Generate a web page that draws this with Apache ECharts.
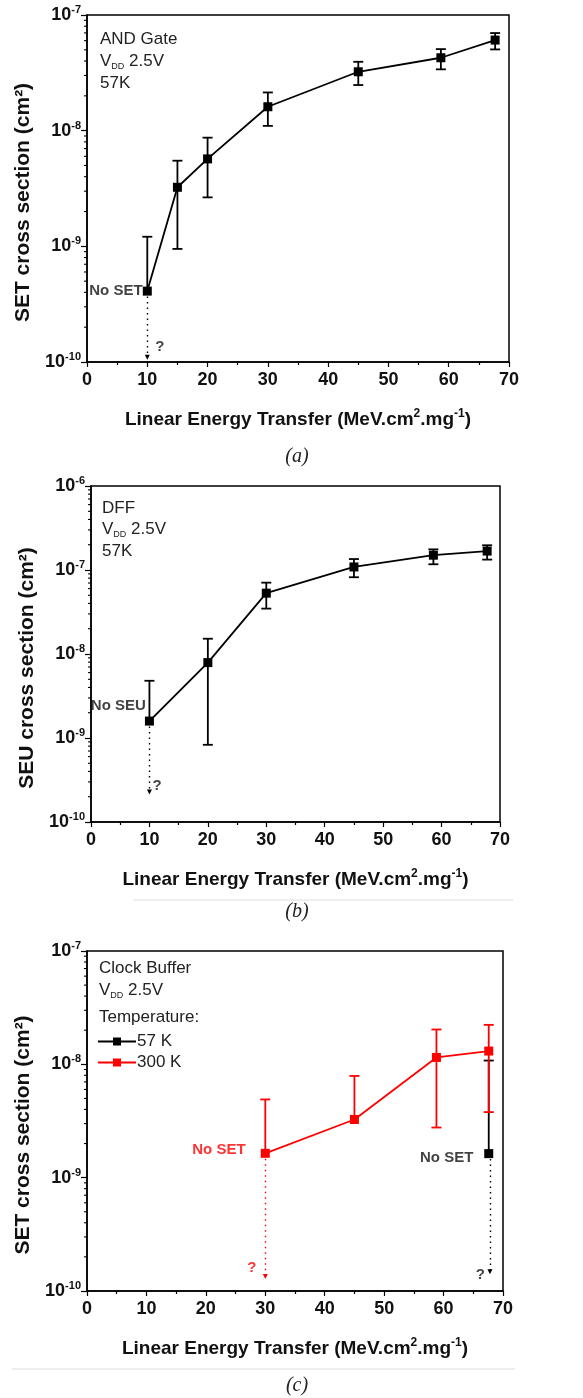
<!DOCTYPE html>
<html><head><meta charset="utf-8">
<script src="https://cdn.jsdelivr.net/npm/echarts@6/dist/echarts.min.js"></script>
<style>html,body{margin:0;padding:0;background:#fff}#c{width:583px;height:1398px}</style>
</head><body><div id="c"></div><script>
// ---------- DATA ----------
// (a) AND Gate, VDD 2.5V, 57K
const letA = [10, 15, 20, 30, 45, 58.7, 67.7];
const setA = [4.1e-10, 3.24e-9, 5.7e-9, 1.61e-8, 3.23e-8, 4.27e-8, 6.07e-8];
const setAHigh = [1.21e-9, 5.5e-9, 8.7e-9, 2.14e-8, 3.94e-8, 5.07e-8, 6.98e-8];
const setALow = [null, 9.5e-10, 2.65e-9, 1.1e-8, 2.48e-8, 3.39e-8, 5.04e-8];
const arrowA = [10, 4.1e-10, 1.1e-10];
const qA = [12.1, 1.35e-10];
// (b) DFF, VDD 2.5V, 57K
const letB = [10, 20, 30, 45, 58.6, 67.8];
const seuB = [1.59e-9, 7.9e-9, 5.3e-8, 1.087e-7, 1.5e-7, 1.68e-7];
const seuBHigh = [4.8e-9, 1.52e-8, 7.07e-8, 1.35e-7, 1.76e-7, 1.97e-7];
const seuBLow = [null, 8.3e-10, 3.47e-8, 8.2e-8, 1.17e-7, 1.33e-7];
const arrowB = [10, 1.59e-9, 2.28e-10];
const qB = [11.3, 2.73e-10];
// (c) Clock Buffer, VDD 2.5V
const letC300 = [30, 45, 58.8, 67.6];
const setC300 = [1.64e-9, 3.26e-9, 1.15e-8, 1.31e-8];
const setC300High = [4.9e-9, 7.9e-9, 2.03e-8, 2.23e-8];
const setC300Low = [null, null, 2.77e-9, 3.79e-9];
const letC57 = [67.6];
const setC57 = [1.63e-9];
const setC57High = [1.08e-8];
const setC57Low = [null];
const arrowC300 = [30, 1.64e-9, 1.34e-10];
const arrowC57 = [67.8, 1.63e-9, 1.48e-10];
const qC300 = [27.75, 1.6e-10];
const qC57 = [66.2, 1.38e-10];
const xTicks = [0, 70, 10];
const yRanges = [[1e-10, 1e-7], [1e-10, 1e-6], [1e-10, 1e-7]];
const yNames = ['SET cross section (cm²)', 'SEU cross section (cm²)', 'SET cross section (cm²)'];
const seriesNames = ['57 K', '300 K'];

// ---------- CHART ----------
const FONT = '"Liberation Sans", Arial, sans-serif';
const TXT = '#111';
const RED = '#ff0000';
const grids = [
  {left: 87, top: 15, width: 422, height: 347},
  {left: 91, top: 486, width: 409, height: 336},
  {left: 87, top: 951, width: 416, height: 340}
];

function xAxis(i) {
  return {
    type: 'value', gridIndex: i, min: xTicks[0], max: xTicks[1], interval: xTicks[2],
    axisLine: {lineStyle: {color: '#000', width: 1.5}},
    axisTick: {length: 5, lineStyle: {color: '#000', width: 1.2}},
    minorTick: {show: true, splitNumber: 2, length: 3, lineStyle: {color: '#000', width: 1.2}},
    splitLine: {show: false},
    axisLabel: {fontFamily: FONT, fontWeight: 'bold', fontSize: 18, color: TXT, margin: 9},
    name: 'Linear Energy Transfer (MeV.cm{s|2}.mg{s|-1})',
    nameLocation: 'middle', nameGap: 46,
    nameTextStyle: {
      fontFamily: FONT, fontWeight: 'bold', fontSize: 19, color: TXT, lineHeight: 24,
      rich: {s: {fontFamily: FONT, fontWeight: 'bold', fontSize: 12, lineHeight: 12, verticalAlign: 'top', color: TXT}}
    }
  };
}
function yAxis(i) {
  return {
    type: 'log', logBase: 10, gridIndex: i, min: yRanges[i][0], max: yRanges[i][1],
    axisLine: {lineStyle: {color: '#000', width: 1.5}},
    axisTick: {length: 6, lineStyle: {color: '#000', width: 1.2}},
    splitLine: {show: false},
    axisLabel: {
      margin: 6,
      formatter: v => '{b|10}{s|' + Math.round(Math.log10(v)) + '}',
      rich: {
        b: {fontFamily: FONT, fontWeight: 'bold', fontSize: 18, lineHeight: 21, color: TXT},
        s: {fontFamily: FONT, fontWeight: 'bold', fontSize: 11, lineHeight: 11, verticalAlign: 'top', color: TXT}
      }
    },
    name: yNames[i], nameLocation: 'middle', nameGap: 51,
    nameTextStyle: {fontFamily: FONT, fontWeight: 'bold', fontSize: 21, color: TXT, padding: [0, 28, 0, 0]}
  };
}

function minorY(i) {
  const data = [];
  const e0 = Math.round(Math.log10(yRanges[i][0])), e1 = Math.round(Math.log10(yRanges[i][1]));
  for (let e = e0; e < e1; e++) for (let m = 2; m <= 9; m++) data.push([0, m * Math.pow(10, e)]);
  return {
    type: 'custom', xAxisIndex: i, yAxisIndex: i, silent: true, z: 1, data: data,
    renderItem: (p, api) => {
      const c = api.coord([api.value(0), api.value(1)]);
      return {type: 'line', shape: {x1: c[0] - 3, y1: c[1], x2: c[0], y2: c[1]}, style: {stroke: '#000', lineWidth: 1.1}};
    }
  };
}

function errBars(i, xs, ys, hi, lo, color, name) {
  const data = xs.map((x, k) => [x, ys[k], hi[k], lo[k] == null ? ys[k] : lo[k], lo[k] == null ? 0 : 1]);
  return {
    type: 'custom', name: name, xAxisIndex: i, yAxisIndex: i, silent: true, z: 2, data: data,
    renderItem: (p, api) => {
      const x = api.value(0);
      const t = api.coord([x, api.value(2)]);
      const b = api.coord([x, api.value(3)]);
      const w = 5, st = {stroke: color, lineWidth: 1.8};
      const ch = [
        {type: 'line', shape: {x1: t[0], y1: t[1], x2: b[0], y2: b[1]}, style: st},
        {type: 'line', shape: {x1: t[0] - w, y1: t[1], x2: t[0] + w, y2: t[1]}, style: st}
      ];
      if (api.value(4) === 1) ch.push({type: 'line', shape: {x1: b[0] - w, y1: b[1], x2: b[0] + w, y2: b[1]}, style: st});
      return {type: 'group', children: ch};
    }
  };
}

function lineSeries(i, xs, ys, color, name, arrow) {
  const s = {
    type: 'line', name: name, xAxisIndex: i, yAxisIndex: i, z: 3,
    data: xs.map((x, k) => [x, ys[k]]),
    symbol: 'rect', symbolSize: 9, showSymbol: true,
    itemStyle: {color: color}, lineStyle: {color: color, width: 1.8},
    emphasis: {disabled: true}, animation: false
  };
  if (arrow) {
    s.markLine = {
      silent: true, symbol: ['none', 'triangle'], symbolSize: 5, symbolRotate: 180, animation: false,
      label: {show: false},
      lineStyle: {color: color, type: [1.5, 4], width: 1.4},
      data: [[{coord: [arrow[0], arrow[1]]}, {coord: [arrow[0], arrow[2]]}]]
    };
  }
  return s;
}

function note(i, pt, text, color, pos, dist, off) {
  return {
    type: 'scatter', xAxisIndex: i, yAxisIndex: i, symbolSize: 0, silent: true, z: 5,
    data: [[pt[0], pt[1]]],
    label: {show: true, formatter: text, position: pos, distance: dist, offset: off || [0, 0],
      fontFamily: FONT, fontWeight: 'bold', fontSize: 15, color: color}
  };
}

function sub(x, y, main, rest) {
  return {
    type: 'text', x: x, y: y, silent: true,
    style: {
      text: '{n|' + main + '}{d|DD}{n|' + rest + '}',
      rich: {
        n: {fontFamily: FONT, fontSize: 17, lineHeight: 20, fill: '#222', verticalAlign: 'middle'},
        d: {fontFamily: FONT, fontSize: 9, lineHeight: 9, fill: '#222', verticalAlign: 'bottom'}
      },
      verticalAlign: 'middle'
    }
  };
}
function txt(x, y, s, size, color) {
  return {type: 'text', x: x, y: y, silent: true,
    style: {text: s, fontFamily: FONT, fontSize: size || 16, fill: color || '#222', verticalAlign: 'middle'}};
}
function caption(y, s) {
  return {type: 'text', x: 297, y: y, silent: true,
    style: {text: s, fontFamily: '"Liberation Serif", "DejaVu Serif", serif', fontStyle: 'italic', fontSize: 20,
      fill: '#222', align: 'center', verticalAlign: 'middle'}};
}

const option = {
  backgroundColor: '#fff',
  animation: false,
  grid: grids.map(g => Object.assign({show: true, borderColor: '#000', borderWidth: 1.5, containLabel: false, outerBoundsMode: 'none'}, g)),
  xAxis: [0, 1, 2].map(xAxis),
  yAxis: [0, 1, 2].map(yAxis),
  legend: {
    data: seriesNames, orient: 'vertical', left: 92, top: 1028, itemWidth: 38, itemHeight: 10, itemGap: 4,
    textStyle: {fontFamily: FONT, fontSize: 17, color: '#222', padding: [0, 0, 0, -4]}, selectedMode: false
  },
  series: [
    minorY(0), minorY(1), minorY(2),
    errBars(0, letA, setA, setAHigh, setALow, '#000'),
    lineSeries(0, letA, setA, '#000', 'A', arrowA),
    note(0, [letA[0], setA[0]], 'No SET', TXT, 'left', 4.7),
    note(0, qA, '?', TXT, 'inside', 0),
    errBars(1, letB, seuB, seuBHigh, seuBLow, '#000'),
    lineSeries(1, letB, seuB, '#000', 'B', arrowB),
    note(1, [letB[0], seuB[0]], 'No SEU', TXT, 'left', 3.6, [0, -15]),
    note(1, qB, '?', TXT, 'inside', 0),
    errBars(2, letC57, setC57, setC57High, setC57Low, '#000'),
    lineSeries(2, letC57, setC57, '#000', seriesNames[0], arrowC57),
    errBars(2, letC300, setC300, setC300High, setC300Low, RED),
    lineSeries(2, letC300, setC300, RED, seriesNames[1], arrowC300),
    note(2, [letC300[0], setC300[0]], 'No SET', RED, 'left', 19.7, [0, -3]),
    note(2, [letC57[0], setC57[0]], 'No SET', TXT, 'left', 15.4, [0, 4]),
    note(2, qC300, '?', RED, 'inside', 0),
    note(2, qC57, '?', TXT, 'inside', 0)
  ],
  graphic: [
    txt(100, 39, 'AND Gate', 17),
    sub(100, 61, 'V', ' 2.5V'),
    txt(100, 83, '57K', 17),
    txt(102, 508, 'DFF', 17),
    sub(102, 529, 'V', ' 2.5V'),
    txt(102, 551, '57K', 17),
    txt(99, 968, 'Clock Buffer', 17),
    sub(99, 990, 'V', ' 2.5V'),
    txt(99, 1017, 'Temperature:', 17),
    caption(457, '(a)'),
    caption(912, '(b)'),
    caption(1386, '(c)'),
    {type: 'line', silent: true, shape: {x1: 133, y1: 900, x2: 513, y2: 900}, style: {stroke: '#ddd', lineWidth: 1}},
    {type: 'line', silent: true, shape: {x1: 12, y1: 1369, x2: 515, y2: 1369}, style: {stroke: '#ddd', lineWidth: 1}}
  ]
};
const chart = echarts.init(document.getElementById('c'));
chart.setOption(option);
</script></body></html>
